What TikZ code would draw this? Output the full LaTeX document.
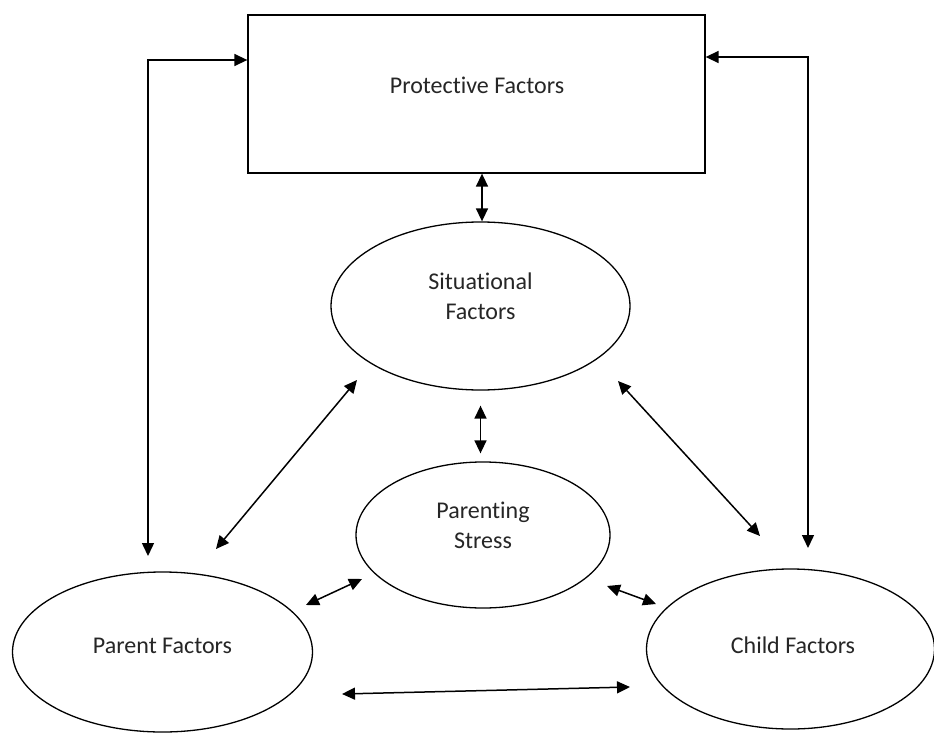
\documentclass[tikz,border=0pt]{standalone}
\usepackage{fontspec}
\setmainfont{Carlito}[Ligatures={NoCommon,NoContextual}]
\usetikzlibrary{shapes.geometric,arrows.meta,calc}
\tikzset{
  shapeline/.style={draw=black, line width=1.3pt, inner sep=0pt, fill=none},
  oval/.style={shapeline, ellipse},
  box/.style={shapeline, rectangle},
  lbl/.style={font=\fontsize{24}{30}\selectfont, text=black!85, align=center, inner sep=0pt},
  tip/.tip={Triangle[length=13pt,width=12pt]},
  dbl/.style={tip-tip, line width=1.5pt, draw=black}
}
\begin{document}
\begin{tikzpicture}[x=1pt,y=-1pt]
\useasboundingbox (0,0) rectangle (934,733);
\fill[white] (0,0) rectangle (934,733);
\clip (0,0) rectangle (934,733);

% shapes
\node[box, minimum width=457pt, minimum height=158pt] (prot) at (476.5,94) {};
\node[oval, minimum width=299pt, minimum height=168pt] (sit) at (480.5,306) {};
\node[oval, minimum width=254pt, minimum height=146pt] (ps) at (483,535) {};
\node[oval, minimum width=300pt, minimum height=160pt] (par) at (162.5,652) {};
\node[oval, minimum width=288pt, minimum height=160pt] (ch) at (790.5,649) {};

% texts
\node[lbl] (prott) at (477,85.5) {Protective Factors};
\node[lbl] (sitt) at (480.5,296) {Situational\\Factors};
\node[lbl] (pst) at (483,525) {Parenting\\Stress};
\node[lbl] (part) at (162.5,646) {Parent Factors};
\node[lbl] (cht) at (793,645) {Child Factors};

% connector end points
\coordinate (lp) at (148,556);
\coordinate (rp) at (808,548);
\coordinate (d1a) at (216,549);
\coordinate (d1b) at (357,380);
\coordinate (d2a) at (618,381);
\coordinate (d2b) at (760,536);
\coordinate (p1a) at (306,605);
\coordinate (p1b) at (362,579);
\coordinate (c1a) at (607,586);
\coordinate (c1b) at (656,604);
\coordinate (h1a) at (342,694);
\coordinate (h1b) at (630,687);

% connectors
\draw[dbl] (prot.south -| 482,0) -- (sit.north -| 482,0);
\draw[dbl] ([yshift=-15pt]sit.south) -- ([yshift=8pt]ps.north -| sit.south);
\draw[dbl] (lp) |- ([yshift=34pt]prot.west);
\draw[dbl] (rp) |- ([yshift=37pt]prot.east);
\draw[dbl] (d1a) -- (d1b);
\draw[dbl] (d2a) -- (d2b);
\draw[dbl] (p1a) -- (p1b);
\draw[dbl] (c1a) -- (c1b);
\draw[dbl] (h1a) -- (h1b);
\end{tikzpicture}
\end{document}
